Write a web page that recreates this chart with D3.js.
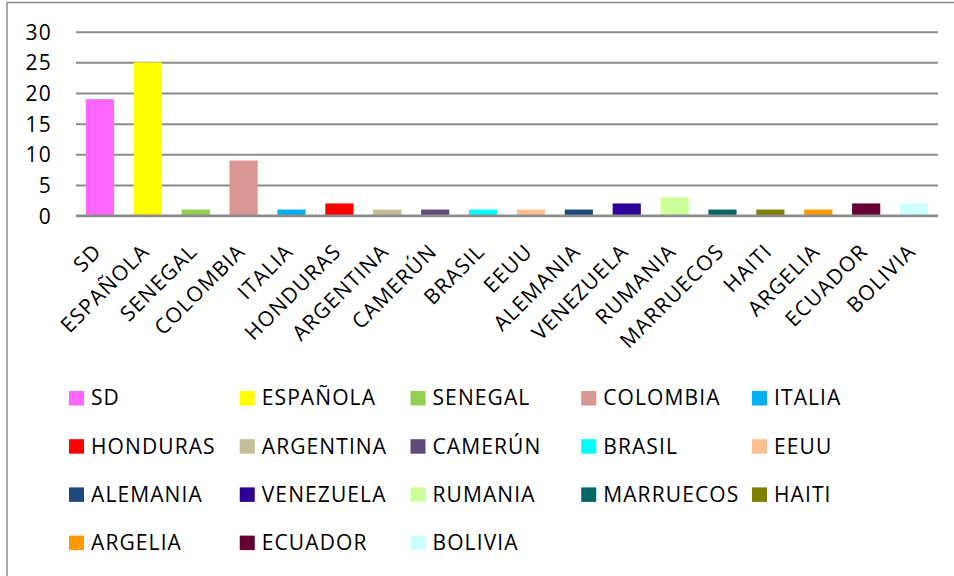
<!DOCTYPE html>
<html><head><meta charset="utf-8">
<script src="https://cdn.jsdelivr.net/npm/d3@7"></script>
<style>
html,body{margin:0;padding:0;background:#fff;}
svg text{font-family:"Open Sans",sans-serif;fill:#000;}
</style></head>
<body><svg id="c" width="954" height="576"></svg>
<script>
const categories = ["SD","ESPAÑOLA","SENEGAL","COLOMBIA","ITALIA","HONDURAS","ARGENTINA","CAMERÚN","BRASIL","EEUU","ALEMANIA","VENEZUELA","RUMANIA","MARRUECOS","HAITI","ARGELIA","ECUADOR","BOLIVIA"];
const values = [19,25,1,9,1,2,1,1,1,1,1,2,3,1,1,1,2,2];
const colors = ["#FF66FF","#FFFF00","#92D050","#D99694","#00B0F0","#FF0000","#C4BD97","#604A7B","#00FFFF","#FAC090","#1F497D","#2E0099","#CCFF99","#006666","#808000","#FF9900","#660033","#CCFFFF"];
const yTicks = [0,5,10,15,20,25,30];

const svg = d3.select("#c");

// outer border
svg.append("rect").attr("x",7).attr("y",2.5).attr("width",960).attr("height",600)
  .attr("fill","none").attr("stroke","#8a8a8a").attr("stroke-width",1.5);

const x = d3.scaleBand().domain(categories).range([76,938]).paddingInner(0.7/1.7).paddingOuter(0.35/1.7);
const y = d3.scaleLinear().domain([0,30]).range([215.7,31.7]);

// gridlines + y labels
const yAxis = d3.axisLeft(y).tickValues(yTicks).tickSize(-(938-76)).tickPadding(24).tickFormat(d3.format("d"));
const gy = svg.append("g").attr("transform","translate(76,0)").call(yAxis);
gy.select(".domain").remove();
gy.selectAll(".tick line").attr("stroke","#8c8c8c").attr("stroke-width",2);
gy.selectAll(".tick text").attr("font-size",21).attr("dy","0.36em").attr("x",-24)
  .style("letter-spacing","1.2px").style("font-family","'Open Sans',sans-serif");

// bars
svg.append("g").selectAll("rect").data(categories).join("rect")
  .attr("x",d=>x(d)).attr("width",x.bandwidth())
  .attr("y",(d,i)=>y(values[i])).attr("height",(d,i)=>y(0)-y(values[i]))
  .attr("fill",(d,i)=>colors[i]);

// baseline
svg.append("line").attr("x1",76).attr("x2",938).attr("y1",y(0)).attr("y2",y(0))
  .attr("stroke","#8c8c8c").attr("stroke-width",2.5);

// x labels
const xAxis = d3.axisBottom(x).tickSize(0).tickPadding(0);
const gx = svg.append("g").attr("transform",`translate(0,${y(0)})`).call(xAxis);
gx.select(".domain").remove();
gx.selectAll(".tick text").attr("font-size",21).attr("text-anchor","end")
  .attr("dy",0).attr("y",0)
  .attr("transform","translate(3,37) rotate(-45)")
  .style("letter-spacing","1.2px")
  .style("font-family","'Open Sans',sans-serif");

// legend
const cols = 5, colW = 170.75, rowH = 48.2;
const lg = svg.append("g").attr("transform","translate(69,391)");
const items = lg.selectAll("g").data(categories).join("g")
  .attr("transform",(d,i)=>`translate(${(i%cols)*colW},${Math.floor(i/cols)*rowH})`);
items.append("rect").attr("width",15).attr("height",14.5).attr("fill",(d,i)=>colors[i]);
items.append("text").attr("x",22).attr("y",14.4).attr("font-size",21)
  .style("letter-spacing","1.1px").text(d=>d);
</script></body></html>
